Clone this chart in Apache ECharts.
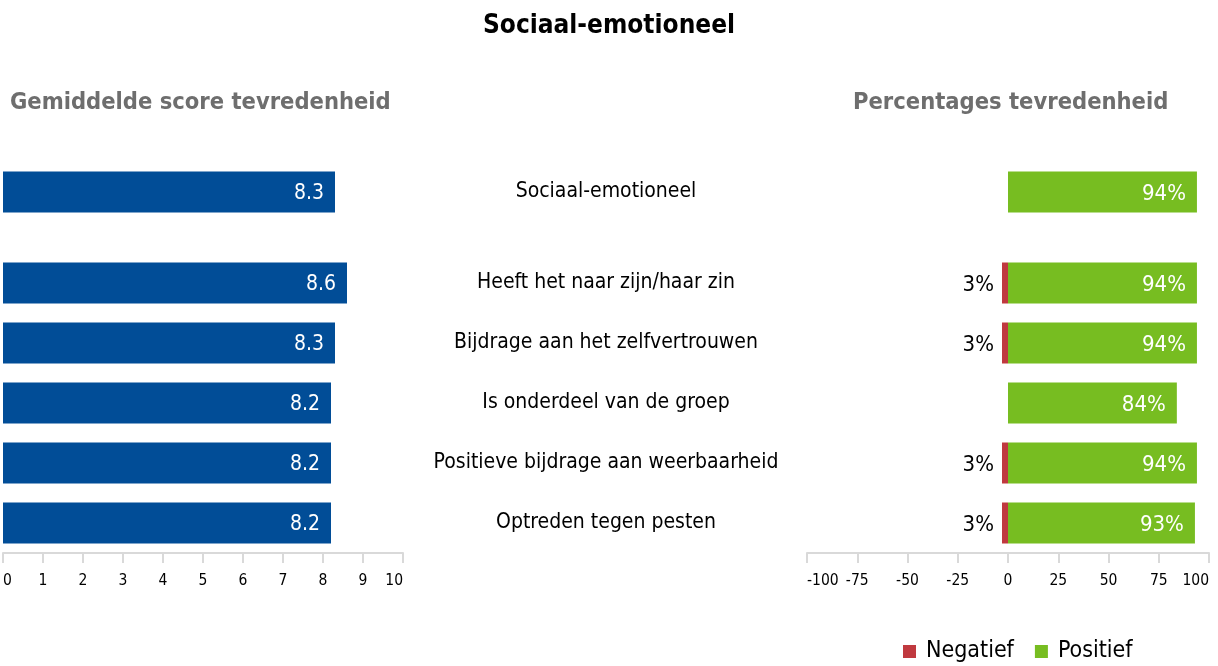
<!DOCTYPE html>
<html>
<head>
<meta charset="utf-8">
<script src="https://cdn.jsdelivr.net/npm/echarts@6/dist/echarts.min.js"></script>
<style>
html,body{margin:0;padding:0;background:#fff;}
#chart{width:1218px;height:666px;}
</style>
</head>
<body>
<div id="chart"></div>
<script>
// ---- Data ----
const summaryCategory = ['Sociaal-emotioneel'];
const summaryScore = [8.3];
const summaryNegative = [null];
const summaryPositive = [94];

const categories = [
  'Heeft het naar zijn/haar zin',
  'Bijdrage aan het zelfvertrouwen',
  'Is onderdeel van de groep',
  'Positieve bijdrage aan weerbaarheid',
  'Optreden tegen pesten'
];
const scores = [8.6, 8.3, 8.2, 8.2, 8.2];
const negative = [-3, -3, null, -3, -3];
const positive = [94, 94, 84, 94, 93];

const scoreAxis = { min: 0, max: 10, interval: 1 };
const pctAxis = { min: -100, max: 100, interval: 25 };

// ---- Styles ----
const FONT = "'DejaVu Sans Condensed', 'DejaVu Sans', sans-serif";
const BLUE = '#014d97';
const GREEN = '#77bd21';
const RED = '#c0393f';
const AXIS_GRAY = '#d9d9d9';
const BAR_W = 41;

const chart = echarts.init(document.getElementById('chart'));

function xAxisCfg(gridIndex, ax, show) {
  return {
    type: 'value', gridIndex, min: ax.min, max: ax.max, interval: ax.interval,
    show: show,
    splitLine: { show: false },
    axisLine: { show: true, lineStyle: { color: AXIS_GRAY, width: 2 } },
    axisTick: { show: true, length: 10, lineStyle: { color: AXIS_GRAY, width: 2 } },
    axisLabel: {
      color: '#000', fontSize: 15.5, fontFamily: FONT, margin: 20,
      alignMinLabel: 'left', alignMaxLabel: 'right'
    }
  };
}
function yAxisCfg(gridIndex, data, showLabels) {
  return {
    type: 'category', gridIndex, data, inverse: true,
    position: 'right',
    axisLine: { show: false }, axisTick: { show: false }, splitLine: { show: false },
    axisLabel: {
      show: showLabels, margin: 203, align: 'center', padding: [4, 0, 0, 0],
      color: '#000', fontSize: 21, fontFamily: FONT
    }
  };
}

const scoreLabel = {
  show: true, position: 'insideRight', distance: 11, offset: [0, 2], color: '#fff',
  fontSize: 21, fontFamily: FONT, formatter: p => p.value.toFixed(1)
};
const negLabel = {
  show: true, position: 'left', distance: 8, offset: [0, 2], color: '#000',
  fontSize: 22, fontFamily: FONT, formatter: p => Math.abs(p.value) + '%'
};
const posLabel = {
  show: true, position: 'insideRight', distance: 11, offset: [0, 2], color: '#fff',
  fontSize: 22, fontFamily: FONT, formatter: p => p.value + '%'
};

const option = {
  animation: false,
  backgroundColor: '#fff',
  title: [
    { text: 'Sociaal-emotioneel', left: 'center', top: 8,
      textStyle: { fontSize: 26, fontWeight: 'bold', color: '#000', fontFamily: FONT } },
    { text: 'Gemiddelde score tevredenheid', left: 5, top: 86,
      textStyle: { fontSize: 23.5, fontWeight: 'bold', color: '#6e6e6e', fontFamily: FONT } },
    { text: 'Percentages tevredenheid', left: 848, top: 86,
      textStyle: { fontSize: 23.5, fontWeight: 'bold', color: '#6e6e6e', fontFamily: FONT } }
  ],
  legend: {
    data: ['Negatief', 'Positief'], left: 898, top: 635,
    icon: 'rect', itemWidth: 13, itemHeight: 13, itemGap: 21,
    textStyle: { fontSize: 23, color: '#000', fontFamily: FONT, padding: [0, 0, 0, 5] }
  },
  grid: [
    { left: 3, width: 400, top: 162, height: 60 },
    { left: 3, width: 400, top: 253, height: 300 },
    { left: 807, width: 402, top: 162, height: 60 },
    { left: 807, width: 402, top: 253, height: 300 }
  ],
  xAxis: [
    xAxisCfg(0, scoreAxis, false),
    xAxisCfg(1, scoreAxis, true),
    xAxisCfg(2, pctAxis, false),
    xAxisCfg(3, pctAxis, true)
  ],
  yAxis: [
    yAxisCfg(0, summaryCategory, true),
    yAxisCfg(1, categories, true),
    yAxisCfg(2, summaryCategory, false),
    yAxisCfg(3, categories, false)
  ],
  series: [
    { type: 'bar', xAxisIndex: 0, yAxisIndex: 0, data: summaryScore, barWidth: BAR_W,
      itemStyle: { color: BLUE }, label: scoreLabel },
    { type: 'bar', xAxisIndex: 1, yAxisIndex: 1, data: scores, barWidth: BAR_W,
      itemStyle: { color: BLUE }, label: scoreLabel },
    { name: 'Negatief', type: 'bar', xAxisIndex: 2, yAxisIndex: 2, stack: 'top',
      data: summaryNegative, barWidth: BAR_W, itemStyle: { color: RED }, label: negLabel },
    { name: 'Positief', type: 'bar', xAxisIndex: 2, yAxisIndex: 2, stack: 'top',
      data: summaryPositive, barWidth: BAR_W, itemStyle: { color: GREEN }, label: posLabel },
    { name: 'Negatief', type: 'bar', xAxisIndex: 3, yAxisIndex: 3, stack: 'rows',
      data: negative, barWidth: BAR_W, itemStyle: { color: RED }, label: negLabel },
    { name: 'Positief', type: 'bar', xAxisIndex: 3, yAxisIndex: 3, stack: 'rows',
      data: positive, barWidth: BAR_W, itemStyle: { color: GREEN }, label: posLabel }
  ]
};
chart.setOption(option);
</script>
</body>
</html>
